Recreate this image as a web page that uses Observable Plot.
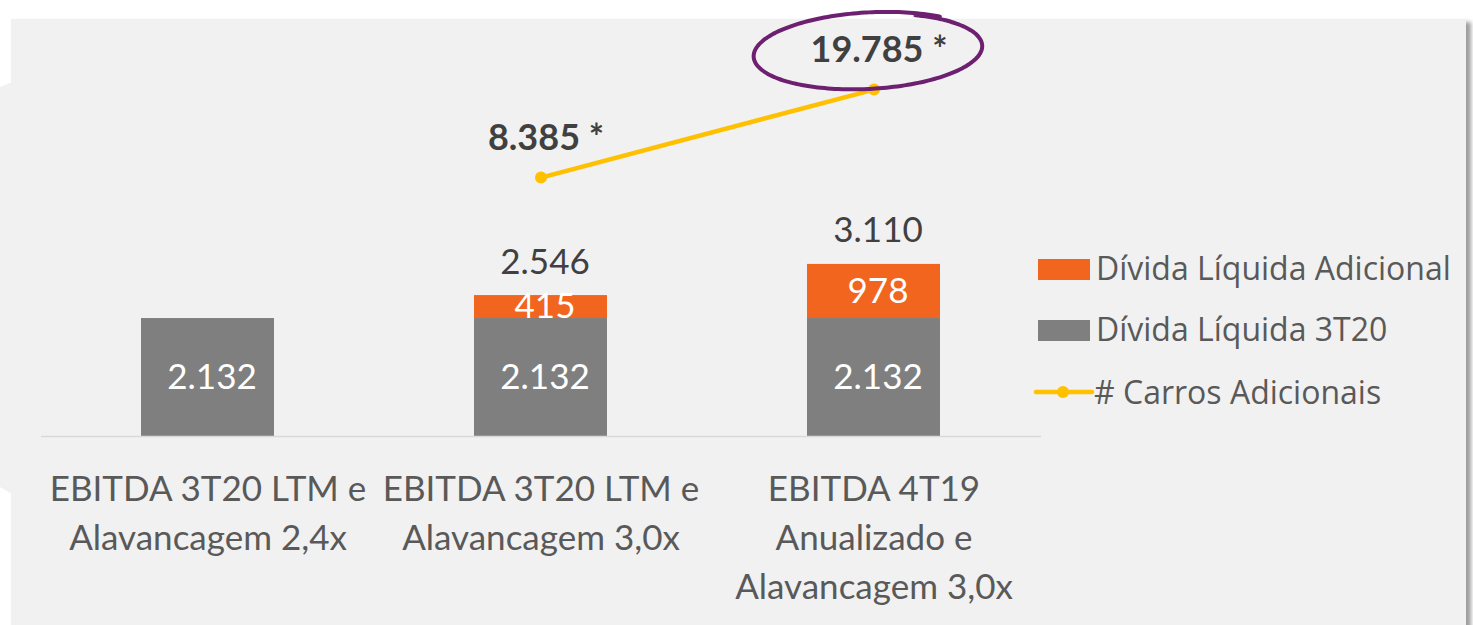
<!DOCTYPE html>
<html>
<head>
<meta charset="utf-8">
<script src="https://cdn.jsdelivr.net/npm/d3@7"></script>
<script src="https://cdn.jsdelivr.net/npm/@observablehq/plot@0.6"></script>
<style>
  html, body { margin: 0; padding: 0; background: #ffffff; }
  body { width: 1473px; height: 625px; position: relative; overflow: hidden; font-family: Lato, "Open Sans", sans-serif; }
  #leftpiece { position: absolute; left: 0; top: 82px; width: 12px; height: 412px; background: #f1f1f1;
    clip-path: polygon(0 5px, 12px 0, 12px 412px, 0 405px); }
  #panel { position: absolute; left: 11px; top: 19px; width: 1455px; height: 610px; background: #f1f1f1;
    box-shadow: 5px 3px 4px rgba(0,0,0,0.38); }
  #chart { position: absolute; left: 0; top: 0; }
  #chart svg { overflow: visible; }
  #overlay { position: absolute; left: 0; top: 0; pointer-events: none; }
</style>
</head>
<body>
<div id="leftpiece"></div>
<div id="panel"></div>
<div id="chart"></div>
<script>
// ---- data ----
const categories = [
  "EBITDA 3T20 LTM e\nAlavancagem 2,4x",
  "EBITDA 3T20 LTM e\nAlavancagem 3,0x",
  "EBITDA 4T19\nAnualizado e\nAlavancagem 3,0x"
];
const series = ["Dívida Líquida 3T20", "Dívida Líquida Adicional"];
const seriesColors = ["#7f7f7f", "#f1651e"];
const dividaBase = [2132, 2132, 2132];
const dividaAdicional = [null, 415, 978];
const totais = [null, 2546, 3110];
const carrosAdicionais = [null, 8385, 19785];
const lineName = "# Carros Adicionais";
const lineColor = "#ffc000";

// ---- formatting ----
const ptBR = d3.formatLocale({decimal: ",", thousands: ".", grouping: [3], currency: ["R$", ""]});
const fmt = ptBR.format(",d");

// ---- derived tables ----
const barRows = [];
categories.forEach((c, i) => {
  barRows.push({cat: c, series: series[0], value: dividaBase[i], mid: dividaBase[i] / 2});
  if (dividaAdicional[i] != null)
    barRows.push({cat: c, series: series[1], value: dividaAdicional[i], mid: dividaBase[i] + dividaAdicional[i] / 2});
});
const totalRows = categories.map((c, i) => ({cat: c, total: totais[i]})).filter(d => d.total != null);
const lineRows = categories.map((c, i) => ({cat: c, v: carrosAdicionais[i]})).filter(d => d.v != null);

// secondary axis (carros) mapped into primary units
const secondary = d3.scaleLinear().domain([0, 20000]).range([3510, 3510 + 20000 * 0.13947]);

const W = 1473, H = 625;
const plot = Plot.plot({
  width: W,
  height: H,
  marginLeft: 41,
  marginRight: 432,
  marginTop: 21,
  marginBottom: 189,
  style: {background: "transparent", fontFamily: "Lato, 'Open Sans', sans-serif", fontSize: "33px", overflow: "visible"},
  x: {domain: categories, paddingInner: 0.6, paddingOuter: 0.3, axis: null},
  y: {domain: [0, 7500], axis: null},
  color: {domain: series, range: seriesColors},
  marks: [
    Plot.barY(barRows, {x: "cat", y: "value", fill: "series"}),
    Plot.ruleY([0], {stroke: "#d9d9d9", strokeWidth: 1.5}),
    Plot.text(barRows, {x: "cat", y: "mid", text: d => fmt(d.value), fill: "white", fontSize: 35, dx: 4}),
    Plot.text(totalRows, {x: "cat", y: "total", text: d => fmt(d.total), fill: "#404040", fontSize: 35, lineAnchor: "bottom", dy: -22, dx: 4}),
    Plot.text(categories, {x: d => d, y: () => 0, text: d => d, lineAnchor: "top", dy: 30, lineHeight: 1.4, fontSize: 35, fill: "#595959"}),
    Plot.line(lineRows, {x: "cat", y: d => secondary(d.v), stroke: lineColor, strokeWidth: 4.5}),
    Plot.dot(lineRows, {x: "cat", y: d => secondary(d.v), r: 6, fill: lineColor}),
    Plot.text(lineRows, {x: "cat", y: d => secondary(d.v), text: d => fmt(d.v) + " *", fontWeight: "bold", fill: "#404040", fontSize: 36, lineAnchor: "bottom", dy: -28, dx: 5})
  ]
});
document.getElementById("chart").appendChild(plot);

// ---- overlay: legend + highlight ellipse ----
const sx = plot.scale("x"), sy = plot.scale("y");
const xs = d3.scaleBand().domain(sx.domain).range(sx.range)
  .paddingInner(sx.paddingInner).paddingOuter(sx.paddingOuter).align(sx.align ?? 0.5);
const ys = d3.scaleLinear().domain(sy.domain).range(sy.range);

const svg = d3.select("body").append("svg").attr("id", "overlay").attr("width", W).attr("height", H);

// highlight ellipse around the last line value
const last = lineRows[lineRows.length - 1];
const cx = xs(last.cat) + xs.bandwidth() / 2 - 5;
const cy = ys(secondary(last.v)) - 38;
const rx = 112, ry = 37, rot = -3 * Math.PI / 180;
const pts = [];
const t0 = -0.36 * Math.PI, t1 = t0 + 2.07 * Math.PI;
for (let k = 0; k <= 200; k++) {
  const t = t0 + (t1 - t0) * k / 200;
  const grow = 1 + 0.05 * (t - t0) / (2 * Math.PI);
  const ex = rx * grow * Math.cos(t), ey = ry * grow * Math.sin(t);
  pts.push([cx + ex * Math.cos(rot) - ey * Math.sin(rot), cy + ex * Math.sin(rot) + ey * Math.cos(rot)]);
}
svg.append("path").attr("d", d3.line().curve(d3.curveBasis)(pts))
  .attr("fill", "none").attr("stroke", "#6d1f70").attr("stroke-width", 4).attr("stroke-linecap", "round");

// legend
const lg = svg.append("g").attr("font-family", "'Open Sans', Lato, sans-serif").attr("font-size", 32).attr("fill", "#595959");
const legendItems = [
  {type: "rect", color: seriesColors[1], label: series[1], y: 269.5},
  {type: "rect", color: seriesColors[0], label: series[0], y: 330.5},
  {type: "line", color: lineColor, label: lineName, y: 392}
];
legendItems.forEach(it => {
  if (it.type === "rect") {
    lg.append("rect").attr("x", 1038).attr("y", it.y - 10.5).attr("width", 52).attr("height", 21).attr("fill", it.color);
    lg.append("text").attr("x", 1096).attr("y", it.y + 10.5).text(it.label);
  } else {
    lg.append("line").attr("x1", 1036).attr("x2", 1092).attr("y1", it.y).attr("y2", it.y)
      .attr("stroke", it.color).attr("stroke-width", 4.5).attr("stroke-linecap", "round");
    lg.append("circle").attr("cx", 1063).attr("cy", it.y).attr("r", 6).attr("fill", it.color);
    lg.append("text").attr("x", 1094).attr("y", it.y + 11.5).text(it.label);
  }
});
</script>
</body>
</html>
